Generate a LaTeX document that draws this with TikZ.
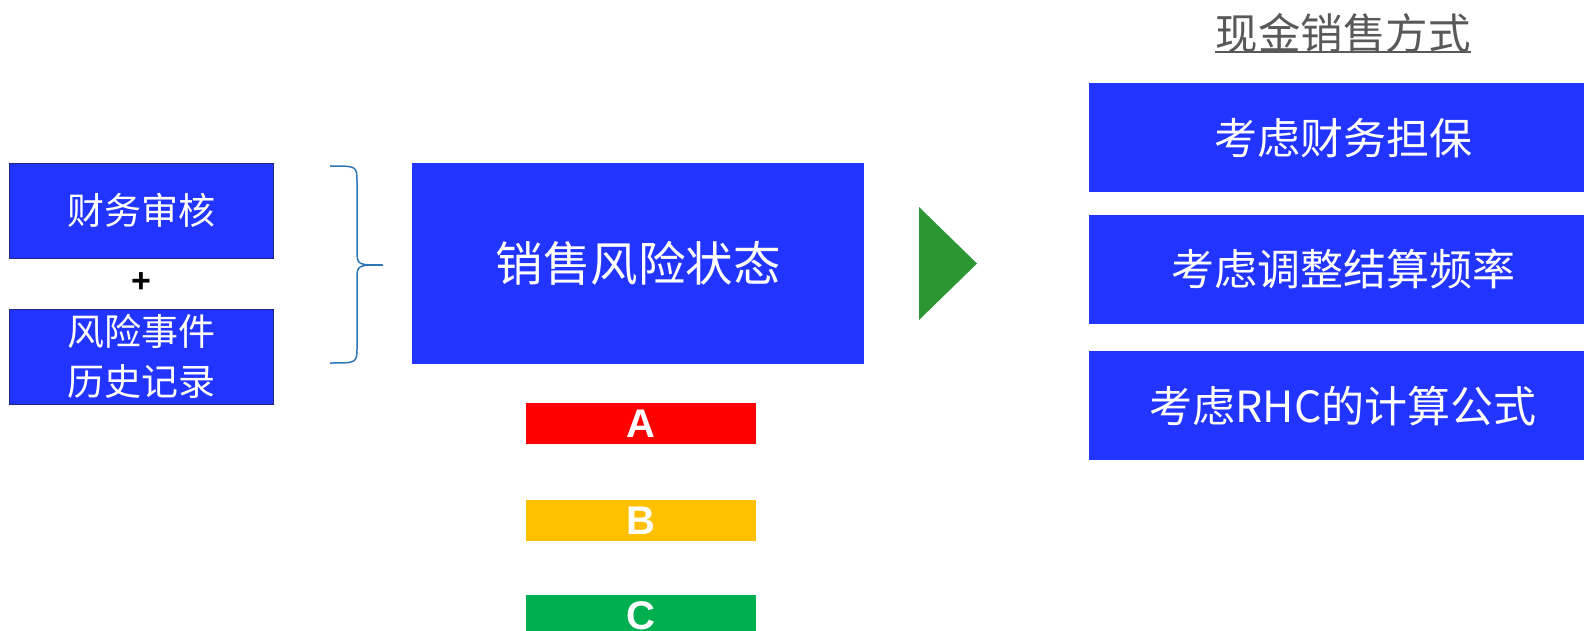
\documentclass[tikz,border=0pt]{standalone}
\usepackage{fontspec}
\setmainfont{Liberation Sans}
\newfontfamily\cjk{Noto Sans CJK SC}
\usepackage{tikz}
\usetikzlibrary{positioning}
\definecolor{boxblue}{RGB}{34,52,255}
\definecolor{boxedge}{RGB}{30,40,120}
\definecolor{bracecol}{RGB}{46,117,182}
\definecolor{arrowgreen}{RGB}{42,150,52}
\definecolor{titlegray}{RGB}{89,89,89}
\definecolor{gradeA}{RGB}{255,0,0}
\definecolor{gradeB}{RGB}{255,192,0}
\definecolor{gradeC}{RGB}{0,176,80}

\begin{document}
\begin{tikzpicture}[x=1pt,y=-1pt]
  \tikzstyle{every node}=[inner sep=0pt,text=white]
  \tikzstyle{inbox}=[fill=boxblue,draw=boxedge,line width=0.8pt,minimum width=264pt,minimum height=95pt,align=center,font=\fontsize{37}{50}\selectfont\cjk]
  \tikzstyle{statebox}=[fill=boxblue,minimum width=452pt,minimum height=201pt,font=\fontsize{47.5}{55}\selectfont\cjk]
  \tikzstyle{grade}=[minimum width=230pt,minimum height=41pt,font=\fontsize{40}{44}\selectfont\bfseries]
  \tikzstyle{waybox}=[fill=boxblue,minimum width=508pt,minimum height=109pt,font=\fontsize{43}{50}\selectfont\cjk]
  \clip (0,0) rectangle (1584,631);

  \node[inbox]                (in_1)    at (141,210.5)            {财务审核};
  \node[text=black,font=\fontsize{34}{38}\selectfont\bfseries]
                              (plus)    at (141,283)              {+};
  \node[inbox]                (in_2)    at (141,356.5)            {风险事件\\历史记录};

  \node[statebox]             (state)   at (638,263.5)            {销售风险状态};
  \node[grade,fill=gradeA]    (grade_A) at (641,423.5)            {A};
  \node[grade,fill=gradeB]    (grade_B) [below=56pt of grade_A]   {B};
  \node[grade,fill=gradeC]    (grade_C) [below=53pt of grade_B]   {C};

  \node[text=titlegray,font=\fontsize{42.5}{50}\selectfont\cjk]
                              (title)   at (1343,33)              {现金销售方式};
  \node[waybox]               (way_1)   at (1343,138)             {考虑财务担保};
  \node[waybox]               (way_2)   [below=22pt of way_1]     {考虑调整结算频率};
  \node[waybox]               (way_3)   [below=27pt of way_2]     {考虑RHC的计算公式};

  \draw[titlegray,line width=2pt] ([yshift=1pt]title.south west) -- ([yshift=1pt]title.south east);

  % brace and arrow
  \draw[bracecol,line width=1.5pt]
  (330,166) .. controls (357,166) .. (357,182) -- (357,250) .. controls (357,265) .. (383,265)
  (330,363) .. controls (357,363) .. (357,347) -- (357,280) .. controls (357,265) .. (383,265);
  \fill[arrowgreen] (919,207) -- (977,263.5) -- (919,320) -- cycle;
\end{tikzpicture}
\end{document}
